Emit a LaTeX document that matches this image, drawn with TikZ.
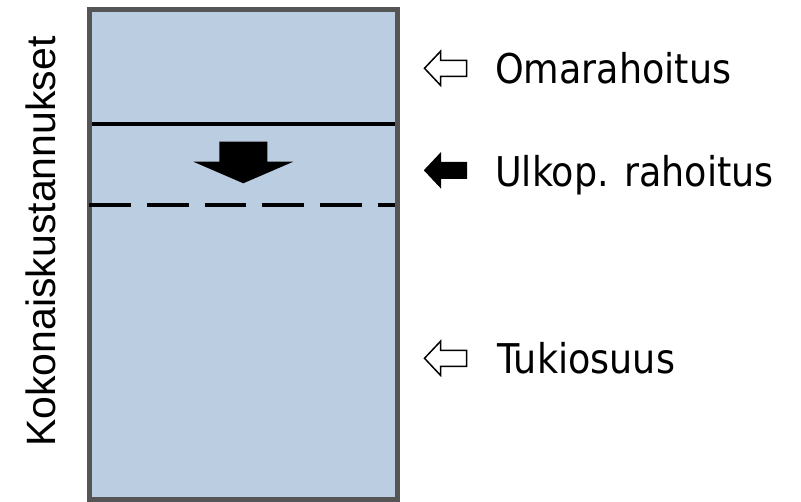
\documentclass[tikz,border=0pt]{standalone}
\usepackage{fontspec}
\setmainfont{DejaVu Sans}
\newfontfamily\axisfont{Liberation Sans}
\definecolor{boxfill}{HTML}{BBCDE0}
\definecolor{boxedge}{HTML}{555555}
\tikzset{
  larrow/.pic={\path[pic actions] (0,0)--(16,-17)--(16,-8)--(42,-8)--(42,8)--(16,8)--(16,17)--cycle;},
  hollowarrow/.style={draw=black,line width=1.5pt,fill=white,line join=miter},
  solidarrow/.style={draw=black,line width=1pt,fill=black},
  lbl/.style={anchor=base west,inner sep=0pt,font=\fontsize{41}{49}\selectfont},
  divider/.style={line width=4.3pt,black},
}
\begin{document}
\begin{tikzpicture}[x=1pt,y=-1pt]
\useasboundingbox (0,0) rectangle (801,502);
% main box
\draw[fill=boxfill,draw=boxedge,line width=5pt] (89.2,9.8) rectangle (397.5,499.6);
% lines
\coordinate (sl) at (91.5,123.8);
\coordinate (sr) at (395,123.8);
\coordinate (dl) at (89.3,205);
\coordinate (dr) at (395,205);
\draw[divider] (sl) -- (sr);
\draw[divider,dash pattern=on 41.7pt off 16pt] (dl) -- (dr);
% big down arrow
\fill[black] (219.3,141.7) -- (267.3,141.7) -- (267.3,161.7) -- (293.3,161.7) -- (243.3,183.3) -- (193.3,161.7) -- (219.3,161.7) -- cycle;
% side arrows
\pic[hollowarrow] at (424.5,68.3) {larrow};
\pic[solidarrow] at (424.5,170.3) {larrow};
\pic[hollowarrow] at (424.5,358.3) {larrow};
% labels
\node[lbl] (oma) at (495,84) {\scalebox{0.89}[1]{Omarahoitus}};
\node[lbl] (ulk) at (495,186.5) {\scalebox{0.89}[1]{Ulkop. rahoitus}};
\node[lbl] (tuk) at (497,373.5) {\scalebox{0.89}[1]{Tukiosuus}};
\node[anchor=base west,inner sep=0pt,rotate=90,font=\axisfont\fontsize{41}{49}\selectfont] (kok) at (55,447) {Kokonaiskustannukset};
\end{tikzpicture}
\end{document}
